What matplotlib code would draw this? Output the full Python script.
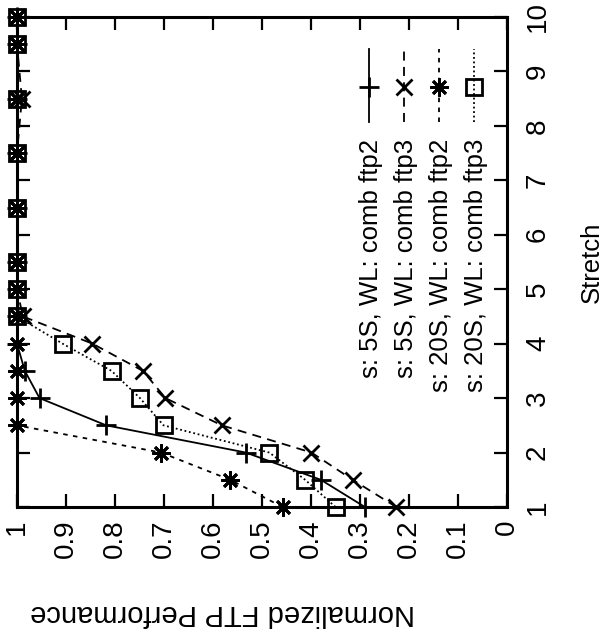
import numpy as np
import matplotlib
matplotlib.use("Agg")
import matplotlib.pyplot as plt

# ============================
# DATA
# ============================
stretch = [1, 1.5, 2, 2.5, 3, 3.5, 4, 4.5, 5, 5.5, 6.5, 7.5, 8.5, 9.5, 10]

s5_ftp2 = [0.29, 0.38, 0.533, 0.818, 0.954, 0.984, 1.0, 1.0, 1.0, 1.0, 1.0, 1.0, 1.0, 1.0, 1.0]
s5_ftp3 = [0.226, 0.315, 0.399, 0.582, 0.697, 0.743, 0.846, 0.988, 1.0, 1.0, 1.0, 1.0, 0.99, 1.0, 1.0]
s20_ftp2 = [0.458, 0.565, 0.706, 1.0, 1.0, 1.0, 1.0, 1.0, 1.0, 1.0, 1.0, 1.0, 1.0, 1.0, 1.0]
s20_ftp3 = [0.35, 0.412, 0.485, 0.701, 0.749, 0.807, 0.907, 1.0, 1.0, 1.0, 1.0, 1.0, 1.0, 1.0, 1.0]

labels = ["s: 5S, WL: comb ftp2", "s: 5S, WL: comb ftp3",
          "s: 20S, WL: comb ftp2", "s: 20S, WL: comb ftp3"]

perf_ticks = [1, 0.9, 0.8, 0.7, 0.6, 0.5, 0.4, 0.3, 0.2, 0.1, 0]
perf_ticklabels = ["1", "0.9", "0.8", "0.7", "0.6", "0.5", "0.4", "0.3", "0.2", "0.1", "0"]
stretch_ticks = [1, 2, 3, 4, 5, 6, 7, 8, 9, 10]

# ============================
# STYLES
# ============================
plt.rcParams["font.family"] = ["Liberation Sans", "DejaVu Sans"]
star = (8, 2, 0)
styles = [
    dict(ls="-", marker="+", ms=14, mew=2.0),
    dict(ls=(0, (5, 3.5)), marker="x", ms=11, mew=2.0),
    dict(ls=(0, (2.5, 3)), marker=star, ms=13, mew=2.0),
    dict(ls=(0, (1, 1.5)), marker="s", ms=11, mew=2.0, mfc="none"),
]
series = [s5_ftp2, s5_ftp3, s20_ftp2, s20_ftp3]

# ============================
# PLOT (chart is drawn rotated: performance runs right->left, stretch upward)
# ============================
fig = plt.figure(figsize=(6.13, 6.37), dpi=100)
ax = fig.add_axes([17 / 613, 1 - 507 / 637, 490 / 613, 490 / 637])

for vals, st in zip(series, styles):
    ax.plot(vals, stretch, color="black", lw=1.3, clip_on=False, zorder=3, **st)

ax.set_xlim(1, 0)
ax.set_ylim(1, 10)
ax.set_xticks(perf_ticks)
ax.set_xticklabels(perf_ticklabels)
ax.set_yticks(stretch_ticks)

for sp in ax.spines.values():
    sp.set_linewidth(2.2)

ax.tick_params(direction="in", length=9.5, width=1.6,
               top=True, bottom=True, left=True, right=True,
               labelleft=False, labelright=True, labelsize=20)
ax.tick_params(axis="x", labelrotation=90, pad=9)
ax.tick_params(axis="y", labelrotation=90, pad=13)
for lab in ax.get_yticklabels():
    lab.set_va("center")

# legend drawn by hand, rotated like the rest of the chart
col_x = [0.718, 0.790, 0.861, 0.933]
for i, (lab, st) in enumerate(zip(labels, styles)):
    ax.plot([col_x[i]] * 2, [0.786, 0.935], transform=ax.transAxes,
            color="black", lw=1.3, ls=st["ls"], clip_on=False)
    ax.plot([col_x[i]], [0.858], transform=ax.transAxes, color="black",
            marker=st["marker"], ms=st["ms"], mew=st["mew"],
            mfc=st.get("mfc", "black"), clip_on=False)
    ax.text(col_x[i] + 0.004, 0.752, lab, transform=ax.transAxes,
            rotation=90, ha="center", va="top", fontsize=18.5)

fig.text(592 / 613, 1 - 262 / 637, "Stretch", rotation=90,
         ha="center", va="center", fontsize=18.5)
fig.text(223 / 613, 1 - 613 / 637, "Normalized FTP Performance", rotation=180,
         ha="center", va="center", fontsize=21)

fig.savefig("out.png", dpi=100)
